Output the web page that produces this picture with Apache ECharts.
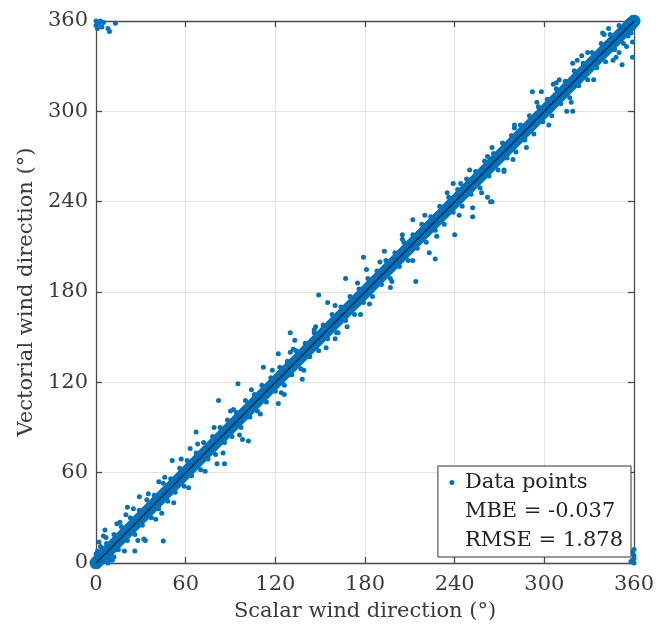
<!DOCTYPE html>
<html>
<head>
<meta charset="utf-8">
<script src="https://cdn.jsdelivr.net/npm/echarts@6/dist/echarts.min.js"></script>
<style>
html,body{margin:0;padding:0;background:#fff;}
#chart{width:661px;height:632px;}
</style>
</head>
<body>
<div id="chart"></div>
<script>
// Axis ticks
var tickValues = [0, 60, 120, 180, 240, 300, 360];

// Dense core of the point cloud along the diagonal (endpoints)
var coreX = [0, 360];
var coreY = [0, 360];

// Fitted 1:1 line
var fitX = [0, 360];
var fitY = [0, 360];

// Scatter points: [scalar, vectorial]
var cornerPoints = [
  [0,360],[1,359],[2,358],[0,357],[3,360],[4,356],[8,355],[9,353],[13,358.5],[1,355],[5,359],
  [360,0],[359,2],[360,5],[360,9],[358,1],[360,3],[359,7],
  [0,0],[2,4],[4,1],[1,8],[3,11],[6,3],[8,0],[10,2],[0,6],[5,7],[12,4],[2,14],[7,13],[14,9],[0,3],
  [360,360],[358,360],[357,355],[360,356],[355,352],[352,349],[359,346],[356,350]
];

var outlierPoints = [
  [6,22],[6.7,17],[33,15],[45,14.6],[29,44],[21,37],[42,54],[51,68],[63,76],[67,87],
  [81,66],[86,66],[102,81],[98,82],[92,102],[82,108],[26,8],[32,16],[95,119],[112,130],
  [122,106],[122,139],[130,153],[138,122],[126,112],[149,178],[155,173],[167,189],[160,149],
  [162,153],[146,155],[133,148],[130,140],[179,203],[181,195],[193,207],[205,218],[212,228],
  [223,206],[227,202],[214,187],[197,183],[177,165],[239,252],[244,252],[252,230],[240,218],
  [262,270],[264,240],[262,243],[273,260],[279,268],[292,313],[298,313],[280,289],[315,300],
  [319,300],[308,319],[319,332],[329,339],[339,352],[352,331],[348,336],[359,336],[252,236],[265,240]
];

var edgePoints = [
  [4,10],[9,3],[12,19],[15,9],[17,24],[21,15],[23,30],[26,19],[29,35],[31,25],[34,42],[37,30],
  [39,45],[42,36],[45,53],[48,41],[50,56],[53,47],[56,63],[59,51],[61,68],[64,58],[67,73],[70,62],
  [72,80],[75,69],[78,84],[80,72],[83,90],[86,80],[88,95],[91,84],[94,100],[97,90],[100,108],
  [103,97],[106,112],[108,101],[111,118],[114,107],[117,123],[120,114],[123,130],[126,118],
  [128,134],[131,125],[134,141],[137,129],[140,146],[143,137],[146,153],[149,141],[152,158],
  [155,149],[158,165],[161,153],[164,170],[167,161],[170,177],[173,165],[176,182],[179,173],
  [182,189],[185,177],[188,194],[191,185],[194,201],[197,189],[200,206],[203,197],[206,213],
  [209,201],[212,218],[215,209],[218,225],[221,213],[224,230],[227,221],[230,237],[233,225],
  [236,243],[239,233],[242,248],[245,237],[248,255],[251,245],[254,260],[257,249],[260,267],
  [263,257],[266,272],[269,261],[272,279],[275,269],[278,284],[281,273],[284,291],[287,281],
  [290,297],[293,285],[296,303],[299,293],[302,308],[305,297],[308,315],[311,305],[314,320],
  [317,309],[320,327],[323,317],[326,332],[329,321],[332,339],[335,329],[338,345],[341,333],
  [344,351],[347,341],[350,357],[353,345],[356,360],[358,352]
];

var outerEdgePoints = [
  [5,18],[11,2],[16,27],[19,8],[25,36],[28,15],[35,46],[40,29],[46,57],[52,40],[57,69],[62,50],
  [68,79],[73,61],[79,90],[85,73],[90,101],[96,85],[104,115],[110,99],[118,128],[124,113],
  [132,142],[139,128],[147,157],[154,143],[160,171],[168,157],[175,186],[183,172],[190,200],
  [198,187],[205,215],[212,201],[220,231],[228,217],[235,246],[243,231],[250,261],[258,246],
  [265,276],[273,261],[280,291],[288,276],[295,306],[303,291],[310,321],[318,306],[325,337],
  [333,321],[340,351],[346,334],[350,339],[355,343],[343,355],[322,334],[306,318],[14,26],[20,32],[44,33]
];

var legendNames = ['Data points', 'MBE = -0.037', 'RMSE = 1.878'];

var BLUE = '#0072BD';
var FONT = 'DejaVu Serif';
var pts = cornerPoints.concat(outlierPoints, edgePoints, outerEdgePoints);
function pairs(xs, ys){ return xs.map(function(x,i){ return [x, ys[i]]; }); }

var axisCommon = {
  type: 'value', min: 0, max: 360, interval: 60,
  axisLine: { show: true, onZero: false, lineStyle: { color: '#4a4a4a', width: 1.3 } },
  axisTick: { show: true, inside: true, length: 6, lineStyle: { color: '#4a4a4a', width: 1.3 } },
  splitLine: { show: false },
  axisLabel: { show: false }
};

var chart = echarts.init(document.getElementById('chart'), null, { renderer: 'canvas' });
chart.setOption({
  animation: false,
  backgroundColor: '#fff',
  grid: { left: 96, right: 27, top: 21, bottom: 69, containLabel: false },
  xAxis: [
    Object.assign({}, axisCommon, {
      position: 'bottom',
      splitLine: { show: true, lineStyle: { color: '#e3e3e3', width: 1 } },
      axisLabel: { show: true, fontFamily: FONT, fontSize: 21, color: '#3a3a3a', margin: 11,
        formatter: function(v){ return tickValues.indexOf(v) >= 0 ? String(v) : ''; } },
      name: 'Scalar wind direction (°)', nameLocation: 'middle', nameGap: 38,
      nameTextStyle: { fontFamily: FONT, fontSize: 21, color: '#3a3a3a' }
    }),
    Object.assign({}, axisCommon, { position: 'top' })
  ],
  yAxis: [
    Object.assign({}, axisCommon, {
      position: 'left',
      splitLine: { show: true, lineStyle: { color: '#e3e3e3', width: 1 } },
      axisLabel: { show: true, fontFamily: FONT, fontSize: 21, color: '#3a3a3a', margin: 8 },
      name: 'Vectorial wind direction (°)', nameLocation: 'middle', nameGap: 53,
      nameTextStyle: { fontFamily: FONT, fontSize: 21, color: '#3a3a3a' }
    }),
    Object.assign({}, axisCommon, { position: 'right' })
  ],
  legend: {
    right: 30, top: 466, orient: 'vertical', selectedMode: false,
    backgroundColor: '#fff', borderColor: '#333', borderWidth: 1, borderRadius: 0,
    padding: [5, 8, 5, 6], itemGap: 6, itemWidth: 16, itemHeight: 5,
    textStyle: { fontFamily: FONT, fontSize: 21, color: '#222', lineHeight: 23 },
    data: [
      { name: legendNames[0], icon: 'circle', itemStyle: { color: BLUE } },
      { name: legendNames[1], icon: 'none' },
      { name: legendNames[2], icon: 'none' }
    ]
  },
  series: [
    {
      name: 'core', type: 'line', data: pairs(coreX, coreY), symbol: 'none', silent: true,
      lineStyle: { color: BLUE, width: 13, cap: 'round' }, z: 2
    },
    {
      name: legendNames[0], type: 'scatter', data: pts, symbolSize: 5, clip: false,
      itemStyle: { color: BLUE, opacity: 1 }, z: 3
    },
    {
      name: 'fit', type: 'line', data: pairs(fitX, fitY), symbol: 'none', silent: true,
      lineStyle: { color: '#102a40', width: 1.5 }, z: 4
    },
    { name: legendNames[1], type: 'scatter', data: [] },
    { name: legendNames[2], type: 'scatter', data: [] }
  ]
});
</script>
</body>
</html>
